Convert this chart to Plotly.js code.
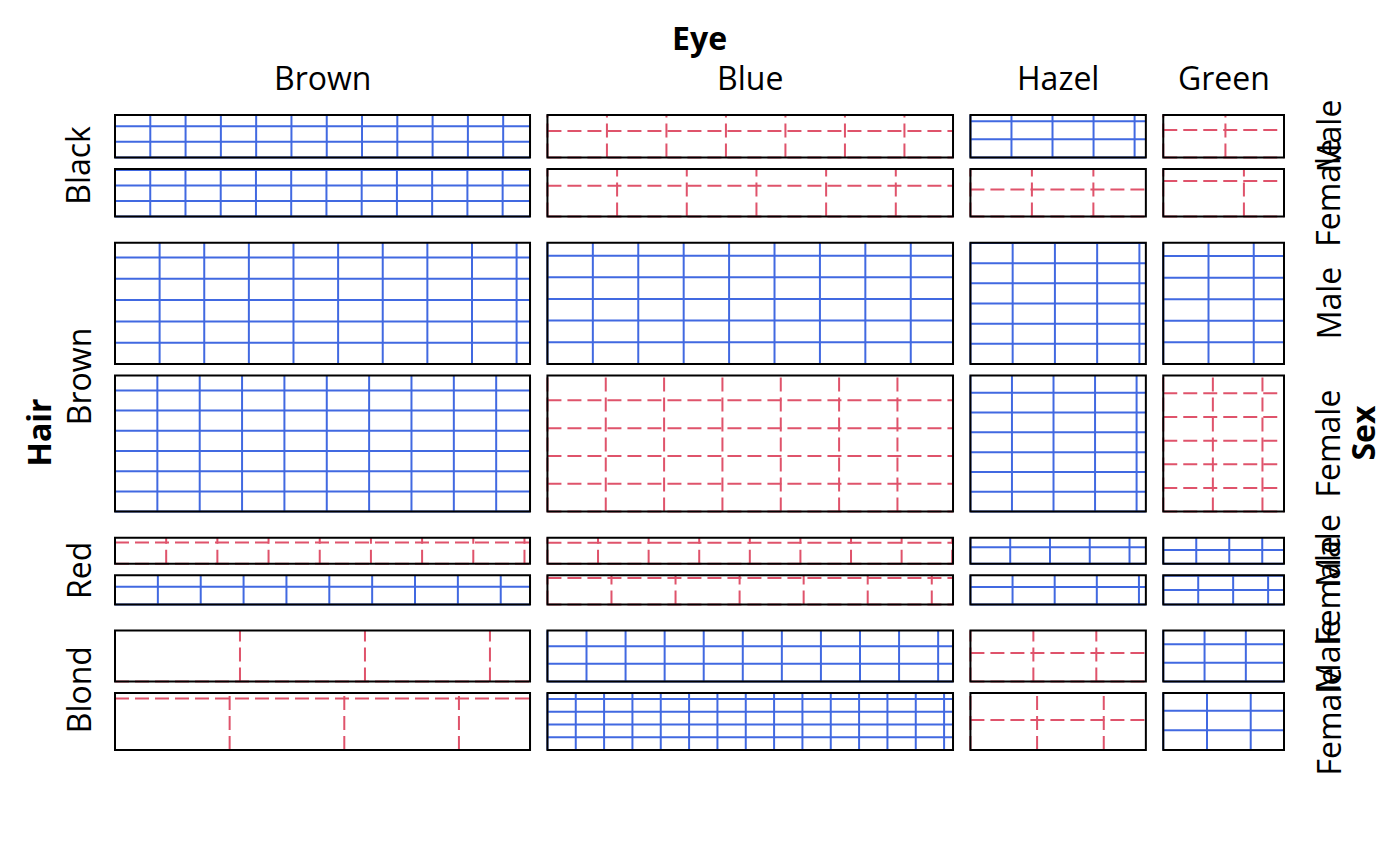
<!DOCTYPE html>
<html>
<head>
<meta charset="utf-8">
<script src="https://cdn.plot.ly/plotly-3.0.1.min.js"></script>
<style>html,body{margin:0;padding:0;background:#fff;}#chart{width:1400px;height:866px;}</style>
</head>
<body>
<div id="chart"></div>
<script>
// HairEyeColor counts
const hairLevels = ["Black", "Brown", "Red", "Blond"];
const eyeLevels = ["Brown", "Blue", "Hazel", "Green"];
const sexLevels = ["Male", "Female"];
const maleCounts = [
  [32, 11, 10, 3],
  [53, 50, 25, 15],
  [10, 10, 7, 7],
  [3, 30, 5, 8]
];
const femaleCounts = [
  [36, 9, 5, 2],
  [66, 34, 29, 14],
  [16, 7, 7, 7],
  [4, 64, 5, 8]
];
const varNames = {hair: "Hair", eye: "Eye", sex: "Sex"};

// ---- layout constants (pixel frame) ----
const L = 115, R = 1284, T = 115, B = 750;
const gapSex = 11.6, gapEye = 17.4, gapHair = 26.1;
const BLUE = "#4169E1", RED = "#DF536B";
const FONT = "Open Sans, Noto Sans, DejaVu Sans, sans-serif";

const counts = [maleCounts, femaleCounts];
const obs = (h, e, s) => counts[s][h][e];
let n = 0;
const hairM = [0,0,0,0], eyeM = [0,0,0,0], sexM = [0,0];
for (let s = 0; s < 2; s++) for (let h = 0; h < 4; h++) for (let e = 0; e < 4; e++) {
  const v = obs(h, e, s);
  n += v; hairM[h] += v; eyeM[e] += v; sexM[s] += v;
}

// column positions
const availW = (R - L) - 3 * gapEye;
const colX = [];
let cx = L;
for (let e = 0; e < 4; e++) {
  const w = availW * eyeM[e] / n;
  colX.push([cx, cx + w]);
  cx += w + gapEye;
}
// row positions (hair -> sex)
const availH = (B - T) - 3 * gapHair;
const hairY = [], cellY = [];
let cy = T;
for (let h = 0; h < 4; h++) {
  const hh = availH * hairM[h] / n;
  hairY.push([cy, cy + hh]);
  const inner = hh - gapSex;
  const rows = [];
  let sy = cy;
  for (let s = 0; s < 2; s++) {
    const sh = inner * sexM[s] / n;
    rows.push([sy, sy + sh]);
    sy += sh + gapSex;
  }
  cellY.push(rows);
  cy += hh + gapHair;
}

const blue = {x: [], y: []}, red = {x: [], y: []};
const shapes = [];
for (let h = 0; h < 4; h++) for (let e = 0; e < 4; e++) for (let s = 0; s < 2; s++) {
  const o = obs(h, e, s);
  const W = eyeM[e] / n, H = (hairM[h] / n) * (sexM[s] / n);
  const expd = n * W * H;
  const [x0, x1] = colX[e];
  const [y0, y1] = cellY[h][s]; // y0 top, y1 bottom (pixel frame)
  const tgt = o > expd ? blue : red;
  if (o > 0) {
    const side = Math.sqrt(W * H / o);
    for (let k = 0; k * side <= W + 1e-12; k++) {
      const xx = x0 + (x1 - x0) * (k * side / W);
      tgt.x.push(xx, xx, null); tgt.y.push(y1, y0, null);
    }
    for (let k = 0; k * side <= H + 1e-12; k++) {
      const yy = y1 - (y1 - y0) * (k * side / H);
      tgt.x.push(x0, x1, null); tgt.y.push(yy, yy, null);
    }
  }
  shapes.push({type: "rect", xref: "x", yref: "y", x0: x0, x1: x1, y0: y0, y1: y1,
    line: {color: "#000", width: 2}, fillcolor: "rgba(0,0,0,0)", layer: "above"});
}

const traces = [
  {type: "scatter", mode: "lines", x: blue.x, y: blue.y, connectgaps: false,
   line: {color: BLUE, width: 2}, hoverinfo: "skip", showlegend: false},
  {type: "scatter", mode: "lines", x: red.x, y: red.y, connectgaps: false,
   line: {color: RED, width: 2, dash: "14px,6px"}, hoverinfo: "skip", showlegend: false}
];

const FS = 32;
const ann = [];
ann.push({text: "<b>" + varNames.eye + "</b>", x: (L + R) / 2, y: 37, xref: "x", yref: "y",
  showarrow: false, xanchor: "center", yanchor: "middle", font: {family: FONT, size: FS, color: "#000"}});
for (let e = 0; e < 4; e++) {
  ann.push({text: eyeLevels[e], x: (colX[e][0] + colX[e][1]) / 2, y: 77, xref: "x", yref: "y",
    showarrow: false, xanchor: "center", yanchor: "middle", font: {family: FONT, size: FS, color: "#000"}});
}
ann.push({text: "<b>" + varNames.hair + "</b>", x: 38, y: (T + B) / 2, xref: "x", yref: "y", textangle: -90,
  showarrow: false, xanchor: "center", yanchor: "middle", font: {family: FONT, size: FS, color: "#000"}});
for (let h = 0; h < 4; h++) {
  ann.push({text: hairLevels[h], x: 78, y: (hairY[h][0] + hairY[h][1]) / 2, xref: "x", yref: "y", textangle: -90,
    showarrow: false, xanchor: "center", yanchor: "middle", font: {family: FONT, size: FS, color: "#000"}});
  for (let s = 0; s < 2; s++) {
    ann.push({text: sexLevels[s], x: 1328, y: (cellY[h][s][0] + cellY[h][s][1]) / 2, xref: "x", yref: "y", textangle: -90,
      showarrow: false, xanchor: "center", yanchor: "middle", font: {family: FONT, size: FS, color: "#000"}});
  }
}
ann.push({text: "<b>" + varNames.sex + "</b>", x: 1362, y: (T + B) / 2, xref: "x", yref: "y", textangle: -90,
  showarrow: false, xanchor: "center", yanchor: "middle", font: {family: FONT, size: FS, color: "#000"}});

const layout = {
  width: 1400, height: 866,
  margin: {l: 0, r: 0, t: 0, b: 0},
  paper_bgcolor: "#fff", plot_bgcolor: "#fff",
  xaxis: {range: [0, 1400], visible: false, fixedrange: true},
  yaxis: {range: [866, 0], visible: false, fixedrange: true},
  shapes: shapes,
  annotations: ann,
  showlegend: false
};
Plotly.newPlot("chart", traces, layout, {staticPlot: true});
</script>
</body>
</html>
